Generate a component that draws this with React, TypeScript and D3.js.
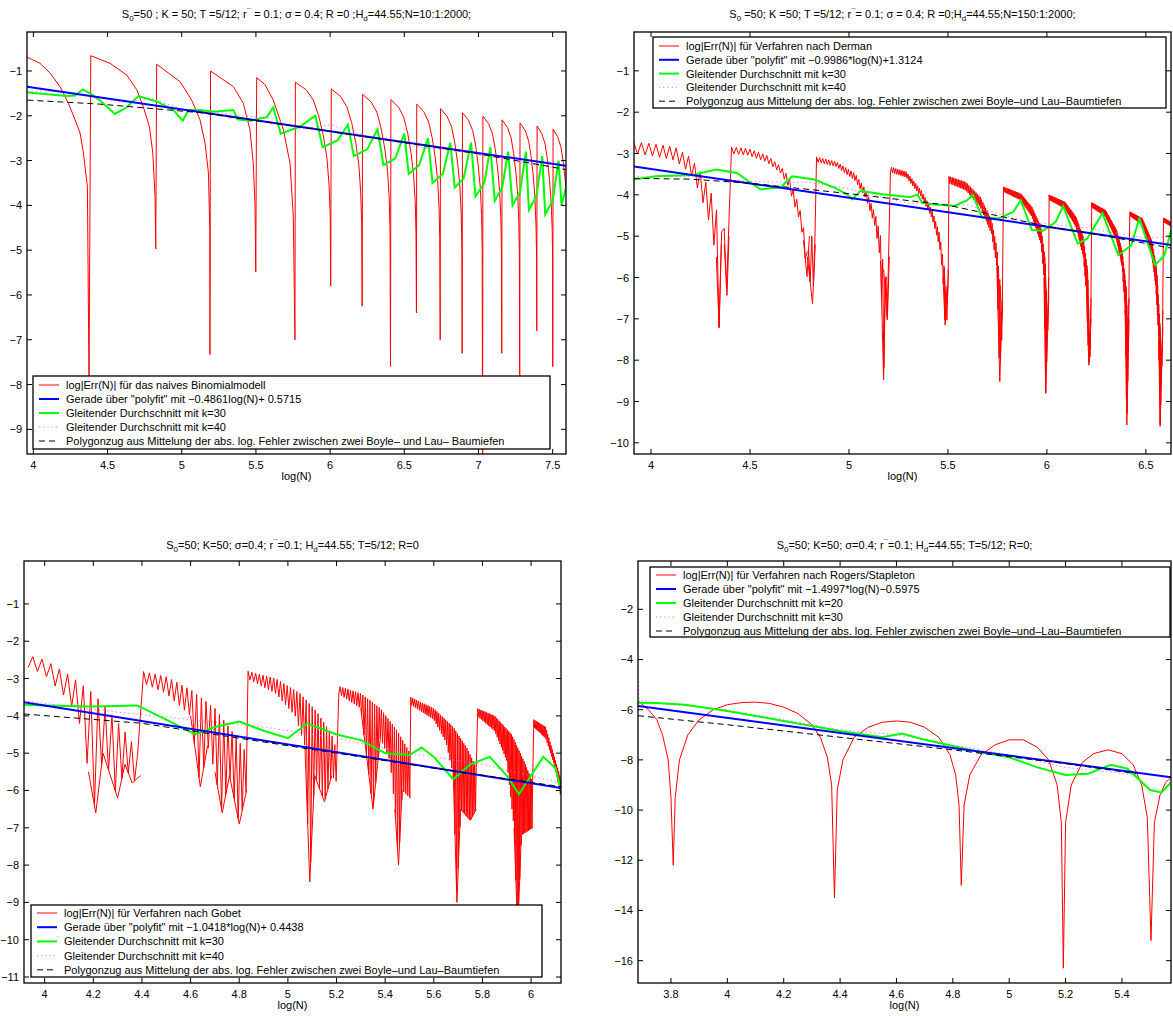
import React from "react";
import * as d3 from "d3";

type Pt = [number, number];
type Seg = { t: string; s?: "sub" | "sup" };

const FONT = "'Liberation Sans', Arial, Helvetica, sans-serif";

// ---------------- Panel 1 : naive binomial ----------------
const P1_XTICKS = [4, 4.5, 5, 5.5, 6, 6.5, 7, 7.5];
const P1_YTICKS = [-1, -2, -3, -4, -5, -6, -7, -8, -9];
const P1_RED: Pt[] = [
  [3.957, -0.69], [4.045, -0.83], [4.113, -1.05], [4.18, -1.35], [4.236, -1.72], [4.281, -2.09], [4.315, -2.39], [4.337, -2.83], [4.364, -3.58], [4.375, -7.9],
  [4.387, -0.66], [4.517, -0.83], [4.629, -1.09], [4.697, -1.42], [4.741, -1.8], [4.782, -2.24], [4.805, -2.83], [4.82, -3.8], [4.825, -4.97],
  [4.831, -0.85], [4.989, -1.24], [5.067, -1.65], [5.123, -2.09], [5.157, -2.61], [5.18, -3.28], [5.189, -4.54], [5.19, -7.33],
  [5.194, -1.0], [5.348, -1.35], [5.415, -1.72], [5.46, -2.31], [5.482, -3.06], [5.494, -4.02], [5.499, -5.49],
  [5.505, -1.15], [5.56, -1.3], [5.617, -1.65], [5.685, -2.31], [5.73, -3.06], [5.752, -4.25], [5.763, -7.0],
  [5.766, -1.25], [5.839, -1.42], [5.887, -1.65], [5.923, -2.0], [5.955, -2.45], [5.979, -2.95], [5.993, -3.55], [6.001, -4.25], [6.004, -5.8],
  [6.008, -1.4], [6.071, -1.57], [6.113, -1.8], [6.145, -2.15], [6.173, -2.6], [6.194, -3.1], [6.206, -3.7], [6.213, -4.4], [6.216, -6.25],
  [6.219, -1.52], [6.276, -1.69], [6.315, -1.92], [6.343, -2.27], [6.368, -2.72], [6.387, -3.22], [6.398, -3.82], [6.404, -4.52], [6.407, -7.6],
  [6.41, -1.64], [6.462, -1.81], [6.497, -2.04], [6.523, -2.39], [6.546, -2.84], [6.563, -3.34], [6.574, -3.94], [6.579, -4.64], [6.582, -6.4],
  [6.584, -1.74], [6.632, -1.91], [6.664, -2.14], [6.688, -2.49], [6.709, -2.94], [6.725, -3.44], [6.734, -4.04], [6.739, -4.74], [6.742, -7.0],
  [6.744, -1.84], [6.788, -2.01], [6.818, -2.24], [6.84, -2.59], [6.859, -3.04], [6.874, -3.54], [6.883, -4.14], [6.888, -4.84], [6.89, -7.3],
  [6.892, -1.93], [6.933, -2.1], [6.961, -2.33], [6.982, -2.68], [6.999, -3.13], [7.013, -3.63], [7.021, -4.23], [7.025, -4.93], [7.028, -9.8],
  [7.03, -2.01], [7.069, -2.18], [7.095, -2.41], [7.114, -2.76], [7.13, -3.21], [7.143, -3.71], [7.151, -4.31], [7.155, -5.01], [7.157, -7.3],
  [7.159, -2.09], [7.195, -2.26], [7.22, -2.49], [7.237, -2.84], [7.253, -3.29], [7.265, -3.79], [7.272, -4.39], [7.276, -5.09], [7.278, -9.3],
  [7.28, -2.16], [7.315, -2.33], [7.338, -2.56], [7.355, -2.91], [7.37, -3.36], [7.381, -3.86], [7.388, -4.46], [7.392, -5.16], [7.393, -6.8],
  [7.395, -2.23], [7.427, -2.4], [7.449, -2.63], [7.465, -2.98], [7.479, -3.43], [7.49, -3.93], [7.497, -4.53], [7.5, -5.23], [7.501, -7.6],
  [7.503, -2.3], [7.534, -2.47], [7.556, -2.7], [7.572, -3.05], [7.59, -3.6],
];
const P1_BLUE: Pt[] = [[3.957, -1.352], [7.59, -3.118]];
const P1_GREEN: Pt[] = [
  [3.962, -1.48], [4.225, -1.56], [4.281, -1.55], [4.333, -1.41], [4.382, -1.5], [4.449, -1.66], [4.55, -1.96], [4.629, -1.81], [4.708, -1.56],
  [4.831, -1.68], [4.943, -1.87], [5.007, -2.11], [5.045, -1.87], [5.123, -1.87], [5.213, -1.91], [5.348, -1.87], [5.375, -2.08], [5.46, -2.11],
  [5.573, -2.03], [5.617, -1.81], [5.667, -2.4], [5.797, -2.24], [5.9, -2.0], [5.95, -2.7], [6.05, -2.55], [6.12, -2.2], [6.16, -2.9],
  [6.25, -2.75], [6.32, -2.3], [6.36, -3.1], [6.44, -2.95], [6.5, -2.4], [6.53, -3.3], [6.6, -3.1], [6.66, -2.5], [6.69, -3.5], [6.76, -3.3],
  [6.81, -2.6], [6.84, -3.6], [6.9, -3.4], [6.95, -2.6], [6.98, -3.8], [7.04, -3.5], [7.08, -2.7], [7.11, -3.9], [7.16, -3.6], [7.2, -2.8],
  [7.23, -4.0], [7.28, -3.7], [7.32, -2.8], [7.34, -4.1], [7.39, -3.8], [7.43, -2.9], [7.45, -4.2], [7.5, -3.9], [7.54, -3.0], [7.56, -4.0], [7.59, -3.6],
];
const P1_MAGENTA: Pt[] = [
  [3.96, -1.45], [4.2, -1.45], [4.4, -1.55], [4.6, -1.7], [4.8, -1.62], [5.0, -1.85], [5.2, -1.9], [5.4, -2.0], [5.6, -2.05], [5.8, -2.3],
  [6.0, -2.2], [6.3, -2.5], [6.6, -2.7], [6.9, -2.8], [7.2, -3.0], [7.59, -3.2],
];
const P1_DASHED: Pt[] = [[3.96, -1.65], [4.449, -1.74], [5.123, -1.93], [5.797, -2.25], [6.4, -2.55], [7.0, -2.85], [7.59, -3.2]];
const P1_LEGEND = [
  "log|Err(N)| für das naives Binomialmodell",
  "Gerade über \"polyfit\" mit −0.4861log(N)+ 0.5715",
  "Gleitender Durchschnitt mit k=30",
  "Gleitender Durchschnitt mit k=40",
  "Polygonzug aus Mittelung der abs. log. Fehler zwischen zwei Boyle– und Lau– Baumiefen",
];
const P1_TITLE: Seg[] = [
  { t: "S" }, { t: "0", s: "sub" }, { t: "=50 ; K = 50; T =5/12; r" }, { t: "¯", s: "sup" },
  { t: " = 0.1; σ = 0.4; R =0 ;H" }, { t: "d", s: "sub" }, { t: "=44.55;N=10:1:2000;" },
];

// ---------------- Panel 2 : Derman ----------------
const P2_XTICKS = [4, 4.5, 5, 5.5, 6, 6.5];
const P2_YTICKS = [-1, -2, -3, -4, -5, -6, -7, -8, -9, -10];
const P2_UPPER: Pt[][] = [
  [[3.912, -2.72], [4.0, -2.76], [4.12, -2.84], [4.2, -3.1], [4.25, -3.45], [4.3, -3.9], [4.34, -4.5], [4.37, -5.2], [4.384, -6.43], [4.394, -5.0]],
  [[4.397, -2.84], [4.49, -2.88], [4.583, -3.04], [4.657, -3.32], [4.695, -3.56], [4.72, -3.89], [4.75, -4.29], [4.775, -4.9], [4.79, -5.5], [4.816, -6.63], [4.83, -5.2]],
  [[4.834, -3.08], [4.937, -3.2], [5.03, -3.48], [5.086, -3.89], [5.132, -4.45], [5.16, -5.0], [5.175, -5.8], [5.194, -7.03], [5.204, -5.5]],
  [[5.207, -3.32], [5.29, -3.44], [5.365, -3.89], [5.42, -4.37], [5.458, -4.94], [5.48, -5.7], [5.495, -7.03], [5.502, -5.8]],
  [[5.505, -3.55], [5.59, -3.69], [5.663, -4.05], [5.72, -4.6], [5.747, -5.26], [5.765, -6.2], [5.772, -7.52], [5.776, -6.4]],
  [[5.778, -3.8], [5.868, -3.97], [5.924, -4.29], [5.97, -4.77], [5.99, -5.5], [6.004, -7.27], [6.009, -6.0]],
  [[6.011, -4.0], [6.091, -4.17], [6.147, -4.53], [6.184, -5.02], [6.205, -5.8], [6.218, -7.92], [6.223, -6.5]],
  [[6.225, -4.18], [6.296, -4.37], [6.352, -4.85], [6.38, -5.34], [6.4, -6.2], [6.41, -7.52], [6.415, -6.5]],
  [[6.417, -4.4], [6.482, -4.57], [6.529, -5.1], [6.555, -5.8], [6.572, -7.2], [6.58, -8.16], [6.586, -6.8]],
  [[6.588, -4.55], [6.64, -4.7]],
];
const P2_LOWER: Pt[][] = [
  [[3.912, -3.0], [4.0, -3.05], [4.12, -3.16], [4.2, -3.48], [4.25, -4.0], [4.29, -4.6], [4.33, -5.5], [4.344, -7.22], [4.355, -5.2], [4.37, -4.8], [4.394, -4.9]],
  [[4.397, -3.0], [4.49, -3.04], [4.583, -3.2], [4.657, -3.48], [4.695, -3.8], [4.72, -4.2], [4.75, -4.6], [4.77, -5.1], [4.788, -5.98], [4.8, -5.0], [4.83, -5.0]],
  [[4.834, -3.2], [4.937, -3.32], [5.03, -3.65], [5.086, -4.09], [5.132, -4.77], [5.16, -5.6], [5.175, -8.48], [5.185, -6.0], [5.204, -5.8]],
  [[5.207, -3.45], [5.29, -3.58], [5.365, -4.05], [5.42, -4.57], [5.458, -5.26], [5.475, -6.0], [5.486, -7.15], [5.495, -6.2], [5.502, -6.0]],
  [[5.505, -3.72], [5.59, -3.89], [5.663, -4.29], [5.72, -4.94], [5.747, -5.74], [5.762, -8.52], [5.775, -6.5]],
  [[5.778, -3.92], [5.868, -4.13], [5.924, -4.53], [5.97, -5.18], [5.985, -6.0], [5.994, -8.8], [6.009, -6.5]],
  [[6.011, -4.12], [6.091, -4.33], [6.147, -4.77], [6.184, -5.5], [6.2, -6.4], [6.212, -8.12], [6.223, -7.0]],
  [[6.225, -4.3], [6.296, -4.52], [6.352, -5.1], [6.38, -5.74], [6.395, -6.8], [6.404, -9.57], [6.415, -7.0]],
  [[6.417, -4.5], [6.482, -4.73], [6.529, -5.42], [6.55, -6.2], [6.565, -7.5], [6.572, -9.6], [6.586, -7.2]],
  [[6.588, -4.65], [6.64, -4.8]],
];
const P2_BLUE: Pt[] = [[3.912, -3.31], [6.64, -5.22]];
const P2_GREEN: Pt[] = [
  [3.912, -3.63], [4.024, -3.55], [4.21, -3.52], [4.33, -3.39], [4.434, -3.47], [4.51, -3.73], [4.555, -3.87], [4.657, -3.81], [4.713, -3.55],
  [4.825, -3.63], [4.937, -3.85], [4.993, -4.0], [5.017, -4.11], [5.058, -3.9], [5.16, -3.98], [5.309, -4.06], [5.346, -3.99], [5.369, -4.19],
  [5.42, -4.23], [5.533, -4.27], [5.598, -4.13], [5.626, -4.0], [5.672, -4.55], [5.756, -4.57], [5.831, -4.41], [5.868, -4.13], [5.924, -4.85],
  [5.98, -4.87], [6.045, -4.65], [6.082, -4.27], [6.156, -5.18], [6.203, -5.06], [6.25, -4.69], [6.281, -4.44], [6.361, -5.46], [6.426, -5.22],
  [6.467, -4.57], [6.547, -5.7], [6.594, -5.46], [6.635, -4.73], [6.64, -4.8],
];
const P2_MAGENTA: Pt[] = [
  [3.912, -3.55], [4.2, -3.55], [4.5, -3.68], [4.8, -3.7], [5.0, -3.85], [5.3, -4.2], [5.6, -4.25], [5.9, -4.65], [6.2, -4.8], [6.5, -5.05], [6.64, -5.0],
];
const P2_DASHED: Pt[] = [[3.912, -3.6], [4.2, -3.62], [4.5, -3.72], [5.0, -3.97], [5.5, -4.25], [6.0, -4.76], [6.3, -5.0], [6.64, -5.3]];
const P2_LEGEND = [
  "log|Err(N)| für Verfahren nach Derman",
  "Gerade über \"polyfit\" mit −0.9986*log(N)+1.3124",
  "Gleitender Durchschnitt mit k=30",
  "Gleitender Durchschnitt mit k=40",
  "Polygonzug aus Mittelung der abs. log. Fehler zwischen zwei Boyle–und Lau–Baumtiefen",
];
const P2_TITLE: Seg[] = [
  { t: "S" }, { t: "0", s: "sub" }, { t: " =50; K =50; T =5/12; r" }, { t: "¯", s: "sup" },
  { t: "= 0.1; σ = 0.4; R =0;H" }, { t: "d", s: "sub" }, { t: "=44.55;N=150:1:2000;" },
];

// ---------------- Panel 3 : Gobet ----------------
const P3_XTICKS = [4, 4.2, 4.4, 4.6, 4.8, 5, 5.2, 5.4, 5.6, 5.8, 6];
const P3_YTICKS = [-1, -2, -3, -4, -5, -6, -7, -8, -9, -10, -11];
const P3_UPPER: Pt[][] = [
  [[3.915, -2.35], [4.0, -2.5], [4.1, -2.9], [4.2, -3.4], [4.28, -4.0], [4.35, -4.6], [4.394, -5.2]],
  [[4.397, -2.8], [4.5, -2.95], [4.6, -3.3], [4.7, -3.8], [4.78, -4.5], [4.83, -5.0]],
  [[4.834, -2.8], [4.95, -3.0], [5.05, -3.4], [5.12, -3.9], [5.18, -4.5], [5.204, -5.0]],
  [[5.207, -3.2], [5.3, -3.4], [5.38, -3.8], [5.45, -4.4], [5.502, -5.0]],
  [[5.505, -3.5], [5.6, -3.8], [5.68, -4.3], [5.74, -4.9], [5.775, -5.4]],
  [[5.778, -3.8], [5.85, -4.0], [5.92, -4.5], [5.97, -5.2], [6.008, -5.8]],
  [[6.011, -4.1], [6.06, -4.3], [6.123, -5.7]],
];
const P3_LOWER: Pt[][] = [
  [[3.915, -2.65], [4.0, -2.9], [4.1, -3.6], [4.15, -4.3], [4.18, -5.5], [4.21, -6.6], [4.24, -5.0], [4.3, -6.2], [4.33, -5.3], [4.36, -5.8], [4.394, -5.6]],
  [[4.397, -3.1], [4.5, -3.4], [4.6, -4.0], [4.64, -5.9], [4.67, -4.8], [4.7, -5.5], [4.73, -6.6], [4.76, -5.6], [4.8, -6.9], [4.83, -6.0]],
  [[4.834, -3.0], [4.95, -3.4], [5.03, -4.0], [5.07, -4.8], [5.09, -8.45], [5.11, -5.6], [5.15, -6.3], [5.18, -5.6], [5.204, -5.8]],
  [[5.207, -3.4], [5.3, -3.8], [5.35, -6.5], [5.38, -4.6], [5.42, -5.2], [5.44, -6.5], [5.455, -8.0], [5.47, -6.0], [5.502, -6.2]],
  [[5.505, -3.7], [5.6, -4.1], [5.65, -4.7], [5.68, -5.6], [5.695, -9.0], [5.71, -6.5], [5.75, -6.8], [5.775, -6.5]],
  [[5.778, -4.0], [5.85, -4.4], [5.9, -5.2], [5.93, -7.0], [5.945, -9.8], [5.96, -7.2], [6.008, -7.0]],
  [[6.011, -4.3], [6.06, -4.6], [6.1, -5.4], [6.123, -6.2]],
];
const P3_BLUE: Pt[] = [[3.915, -3.635], [6.123, -5.935]];
const P3_GREEN: Pt[] = [
  [3.915, -3.7], [4.0, -3.72], [4.2, -3.75], [4.38, -3.72], [4.5, -4.1], [4.62, -4.5], [4.7, -4.3], [4.8, -4.15], [4.9, -4.4], [5.0, -4.6],
  [5.08, -4.2], [5.2, -4.5], [5.3, -4.65], [5.4, -5.0], [5.5, -5.05], [5.55, -4.85], [5.6, -5.1], [5.68, -5.7], [5.75, -5.3], [5.83, -5.1],
  [5.9, -5.6], [5.95, -6.1], [6.0, -5.6], [6.05, -5.1], [6.1, -5.4], [6.123, -6.0],
];
const P3_MAGENTA: Pt[] = [[3.915, -3.6], [4.3, -3.9], [4.6, -4.1], [4.9, -4.3], [5.2, -4.6], [5.5, -5.0], [5.8, -5.3], [6.123, -5.8]];
const P3_DASHED: Pt[] = [[3.915, -3.95], [4.4, -4.2], [4.8, -4.6], [5.2, -5.0], [5.6, -5.4], [6.123, -5.9]];
const P3_LEGEND = [
  "log|Err(N)| für Verfahren nach Gobet",
  "Gerade über \"polyfit\" mit  −1.0418*log(N)+ 0.4438",
  "Gleitender Durchschnitt mit k=30",
  "Gleitender Durchschnitt mit k=40",
  "Polygonzug aus Mittelung der abs. log. Fehler zwischen zwei Boyle–und Lau–Baumtiefen",
];
const P3_TITLE: Seg[] = [
  { t: "S" }, { t: "0", s: "sub" }, { t: "=50; K=50; σ=0.4; r" }, { t: "¯", s: "sup" },
  { t: "=0.1; H" }, { t: "d", s: "sub" }, { t: "=44.55; T=5/12; R=0" },
];

// ---------------- Panel 4 : Rogers/Stapleton ----------------
const P4_XTICKS = [3.8, 4, 4.2, 4.4, 4.6, 4.8, 5, 5.2, 5.4];
const P4_YTICKS = [-2, -4, -6, -8, -10, -12, -14, -16];
const P4_RED: Pt[] = [
  [3.683, -5.65], [3.72, -6.0], [3.75, -6.4], [3.77, -7.0], [3.79, -8.0], [3.8, -9.5], [3.808, -12.2], [3.815, -9.5], [3.83, -8.0],
  [3.86, -7.0], [3.9, -6.4], [3.95, -6.0], [4.0, -5.8], [4.05, -5.72], [4.1, -5.7], [4.15, -5.75], [4.2, -5.9], [4.25, -6.15],
  [4.3, -6.6], [4.33, -7.1], [4.355, -7.9], [4.37, -9.0], [4.38, -13.5], [4.39, -9.2], [4.41, -8.0], [4.45, -7.1], [4.5, -6.7],
  [4.55, -6.5], [4.6, -6.45], [4.65, -6.5], [4.7, -6.7], [4.75, -7.1], [4.79, -7.8], [4.81, -8.6], [4.822, -9.8], [4.83, -13.0],
  [4.84, -9.8], [4.86, -8.6], [4.9, -7.8], [4.95, -7.4], [5.0, -7.2], [5.05, -7.2], [5.1, -7.5], [5.14, -8.0], [5.17, -9.0],
  [5.185, -10.5], [5.192, -16.3], [5.2, -10.5], [5.22, -9.0], [5.26, -8.1], [5.3, -7.75], [5.35, -7.6], [5.4, -7.75], [5.44, -8.2],
  [5.47, -9.0], [5.49, -10.3], [5.503, -15.2], [5.515, -10.5], [5.535, -9.4], [5.555, -8.9], [5.574, -8.7],
];
const P4_BLUE: Pt[] = [[3.683, -5.85], [5.574, -8.69]];
const P4_GREEN: Pt[] = [
  [3.683, -5.72], [3.75, -5.73], [3.85, -5.8], [4.0, -6.05], [4.2, -6.45], [4.4, -6.85], [4.55, -7.1], [4.62, -6.95], [4.7, -7.2],
  [4.8, -7.45], [4.9, -7.7], [5.0, -7.9], [5.1, -8.3], [5.2, -8.6], [5.28, -8.55], [5.36, -8.2], [5.42, -8.35], [5.5, -9.2], [5.54, -9.3], [5.574, -8.9],
];
const P4_MAGENTA: Pt[] = [
  [3.683, -4.2], [3.687, -5.6], [3.75, -5.75], [4.0, -6.0], [4.2, -6.4], [4.4, -6.8], [4.6, -7.0], [4.8, -7.4], [5.0, -7.8], [5.2, -8.3], [5.45, -8.6],
];
const P4_DASHED: Pt[] = [[3.683, -6.24], [4.0, -6.6], [4.4, -7.1], [4.8, -7.6], [5.2, -8.15], [5.45, -8.55]];
const P4_LEGEND = [
  "log|Err(N)| für Verfahren nach Rogers/Stapleton",
  "Gerade über \"polyfit\" mit −1.4997*log(N)−0.5975",
  "Gleitender Durchschnitt mit k=20",
  "Gleitender Durchschnitt mit k=30",
  "Polygonzug aus Mittelung der abs. log. Fehler zwischen zwei  Boyle–und–Lau–Baumtiefen",
];
const P4_TITLE: Seg[] = [
  { t: "S" }, { t: "0", s: "sub" }, { t: "=50; K=50; σ=0.4; r" }, { t: "¯", s: "sup" },
  { t: "=0.1; H" }, { t: "d", s: "sub" }, { t: "=44.55; T=5/12; R=0;" },
];

// ---------------- helpers ----------------
function interp(pts: Pt[], x: number): number {
  if (x <= pts[0][0]) return pts[0][1];
  for (let i = 1; i < pts.length; i++) {
    if (x <= pts[i][0]) {
      const [x0, y0] = pts[i - 1];
      const [x1, y1] = pts[i];
      return y0 + ((y1 - y0) * (x - x0)) / (x1 - x0);
    }
  }
  return pts[pts.length - 1][1];
}

// odd/even alternation of the error between the two read envelopes, on the integer N grid
function zigzag(upper: Pt[][], lower: Pt[][]): Pt[] {
  const out: Pt[] = [];
  const xmin = upper[0][0][0];
  const last = upper[upper.length - 1];
  const xmax = last[last.length - 1][0];
  const n0 = Math.ceil(Math.exp(xmin));
  const n1 = Math.floor(Math.exp(xmax));
  for (let n = n0; n <= n1; n++) {
    const x = Math.log(n);
    let k = -1;
    for (let i = 0; i < upper.length; i++) {
      const next = i + 1 < upper.length ? upper[i + 1][0][0] : Infinity;
      if (x >= upper[i][0][0] && x < next) k = i;
    }
    if (k < 0) continue;
    const arc = n % 2 === 0 ? upper[k] : lower[k];
    if (x > arc[arc.length - 1][0]) continue;
    out.push([x, interp(arc, x)]);
  }
  return out;
}

// the narrow spikes of each envelope (local minima with their neighbours)
function spikes(arcs: Pt[][]): Pt[][] {
  const out: Pt[][] = [];
  arcs.forEach((a) => {
    for (let i = 1; i < a.length - 1; i++) {
      if (a[i][1] < a[i - 1][1] && a[i][1] < a[i + 1][1]) out.push([a[i - 1], a[i], a[i + 1]]);
    }
  });
  return out;
}

const fmt = (v: number) => {
  const s = String(Math.abs(v));
  return v < 0 ? "\u2212" + s : s;
};

function Title({ segs, x, y }: { segs: Seg[]; x: number; y: number }) {
  const parts: React.ReactNode[] = [];
  let shift = 0;
  segs.forEach((sg, i) => {
    const target = sg.s === "sub" ? 3 : sg.s === "sup" ? -4 : 0;
    const dy = target - shift;
    shift = target;
    parts.push(
      <tspan key={i} dy={dy} fontSize={sg.s ? 8 : 11}>
        {sg.t}
      </tspan>
    );
  });
  return (
    <text x={x} y={y} textAnchor="middle" fontFamily={FONT} fontSize={11} fill="#000">
      {parts}
    </text>
  );
}

interface PanelProps {
  id: string;
  left: number;
  top: number;
  width: number;
  height: number;
  xDomain: [number, number];
  yDomain: [number, number];
  xTicks: number[];
  yTicks: number[];
  title: Seg[];
  titleY: number;
  redLine?: Pt[];
  upper?: Pt[][];
  lower?: Pt[][];
  blue: Pt[];
  green: Pt[];
  magenta: Pt[];
  dashed: Pt[];
  legend: string[];
  legendBox: { x: number; y: number; w: number; h: number; row0: number; dy: number };
}

function Panel(p: PanelProps) {
  const x = d3.scaleLinear().domain(p.xDomain).range([p.left, p.left + p.width]);
  const y = d3.scaleLinear().domain(p.yDomain).range([p.top + p.height, p.top]);
  const line = d3
    .line<Pt>()
    .x((d) => x(d[0]))
    .y((d) => y(d[1]));
  const bottom = p.top + p.height;
  const right = p.left + p.width;
  const tl = 5;
  const clipId = "clip-" + p.id;

  const redPaths: string[] = [];
  if (p.redLine) redPaths.push(line(p.redLine) || "");
  if (p.upper && p.lower) {
    redPaths.push(line(zigzag(p.upper, p.lower)) || "");
    spikes(p.upper).forEach((s) => redPaths.push(line(s) || ""));
    spikes(p.lower).forEach((s) => redPaths.push(line(s) || ""));
  }

  const styles = [
    { stroke: "#ff0000", w: 1, dash: undefined as string | undefined },
    { stroke: "#0000ff", w: 2, dash: undefined },
    { stroke: "#00ff00", w: 2, dash: undefined },
    { stroke: "#ff66ff", w: 1, dash: "1.2,3" },
    { stroke: "#000000", w: 1, dash: "6,4" },
  ];
  const lb = p.legendBox;

  return (
    <g>
      <defs>
        <clipPath id={clipId}>
          <rect x={p.left} y={p.top} width={p.width} height={p.height} />
        </clipPath>
      </defs>
      <rect x={p.left} y={p.top} width={p.width} height={p.height} fill="#fff" />
      <g clipPath={`url(#${clipId})`} fill="none">
        {redPaths.map((d, i) => (
          <path key={"r" + i} d={d} stroke="#ff0000" strokeWidth={1} />
        ))}
        <path d={line(p.magenta) || ""} stroke="#ff66ff" strokeWidth={1} strokeDasharray="1.2,3" />
        <path d={line(p.green) || ""} stroke="#00ff00" strokeWidth={2} />
        <path d={line(p.blue) || ""} stroke="#0000ff" strokeWidth={2} />
        <path d={line(p.dashed) || ""} stroke="#000" strokeWidth={1} strokeDasharray="6,4" />
      </g>
      <rect x={p.left} y={p.top} width={p.width} height={p.height} fill="none" stroke="#000" strokeWidth={1.3} />
      {p.xTicks.map((t) => (
        <g key={"xt" + t}>
          <line x1={x(t)} x2={x(t)} y1={bottom} y2={bottom - tl} stroke="#000" />
          <line x1={x(t)} x2={x(t)} y1={p.top} y2={p.top + tl} stroke="#000" />
          <text x={x(t)} y={bottom + 15} textAnchor="middle" fontFamily={FONT} fontSize={11}>
            {fmt(t)}
          </text>
        </g>
      ))}
      {p.yTicks.map((t) => (
        <g key={"yt" + t}>
          <line x1={p.left} x2={p.left + tl} y1={y(t)} y2={y(t)} stroke="#000" />
          <line x1={right} x2={right - tl} y1={y(t)} y2={y(t)} stroke="#000" />
          <text x={p.left - 5} y={y(t) + 4} textAnchor="end" fontFamily={FONT} fontSize={11}>
            {fmt(t)}
          </text>
        </g>
      ))}
      <text x={p.left + p.width / 2} y={bottom + 26} textAnchor="middle" fontFamily={FONT} fontSize={11}>
        log(N)
      </text>
      <Title segs={p.title} x={p.left + p.width / 2} y={p.titleY} />
      <rect x={lb.x} y={lb.y} width={lb.w} height={lb.h} fill="#fff" stroke="#000" strokeWidth={1.3} />
      {p.legend.map((txt, i) => {
        const ry = lb.row0 + i * lb.dy;
        const st = styles[i];
        return (
          <g key={"lg" + i}>
            <line x1={lb.x + 6} x2={lb.x + 26} y1={ry} y2={ry} stroke={st.stroke} strokeWidth={st.w} strokeDasharray={st.dash} />
            <text x={lb.x + 33} y={ry + 4} fontFamily={FONT} fontSize={11}>
              {txt}
            </text>
          </g>
        );
      })}
    </g>
  );
}

export default function App() {
  return (
    <svg width={1173} height={1016} style={{ position: "absolute", left: 0, top: 0, background: "#fff" }}>
      <rect x={0} y={0} width={1173} height={1016} fill="#fff" />
      <Panel
        id="p1" left={27} top={32} width={539} height={422}
        xDomain={[3.957, 7.59]} yDomain={[-9.55, -0.13]}
        xTicks={P1_XTICKS} yTicks={P1_YTICKS} title={P1_TITLE} titleY={18}
        redLine={P1_RED} blue={P1_BLUE} green={P1_GREEN} magenta={P1_MAGENTA} dashed={P1_DASHED}
        legend={P1_LEGEND} legendBox={{ x: 33, y: 376, w: 517, h: 73, row0: 385, dy: 14 }}
      />
      <Panel
        id="p2" left={634} top={32} width={537} height={422}
        xDomain={[3.914, 6.627]} yDomain={[-10.27, -0.06]}
        xTicks={P2_XTICKS} yTicks={P2_YTICKS} title={P2_TITLE} titleY={18}
        upper={P2_UPPER} lower={P2_LOWER} blue={P2_BLUE} green={P2_GREEN} magenta={P2_MAGENTA} dashed={P2_DASHED}
        legend={P2_LEGEND} legendBox={{ x: 653, y: 37, w: 513, h: 71, row0: 46, dy: 13.8 }}
      />
      <Panel
        id="p3" left={24} top={561} width={537} height={422}
        xDomain={[3.915, 6.123]} yDomain={[-11.16, 0.15]}
        xTicks={P3_XTICKS} yTicks={P3_YTICKS} title={P3_TITLE} titleY={549}
        upper={P3_UPPER} lower={P3_LOWER} blue={P3_BLUE} green={P3_GREEN} magenta={P3_MAGENTA} dashed={P3_DASHED}
        legend={P3_LEGEND} legendBox={{ x: 31, y: 905, w: 511, h: 72, row0: 913, dy: 14.2 }}
      />
      <Panel
        id="p4" left={638} top={561} width={533} height={422}
        xDomain={[3.683, 5.574]} yDomain={[-16.89, -0.076]}
        xTicks={P4_XTICKS} yTicks={P4_YTICKS} title={P4_TITLE} titleY={549}
        redLine={P4_RED} blue={P4_BLUE} green={P4_GREEN} magenta={P4_MAGENTA} dashed={P4_DASHED}
        legend={P4_LEGEND} legendBox={{ x: 650, y: 567, w: 520, h: 70, row0: 575, dy: 14 }}
      />
    </svg>
  );
}
